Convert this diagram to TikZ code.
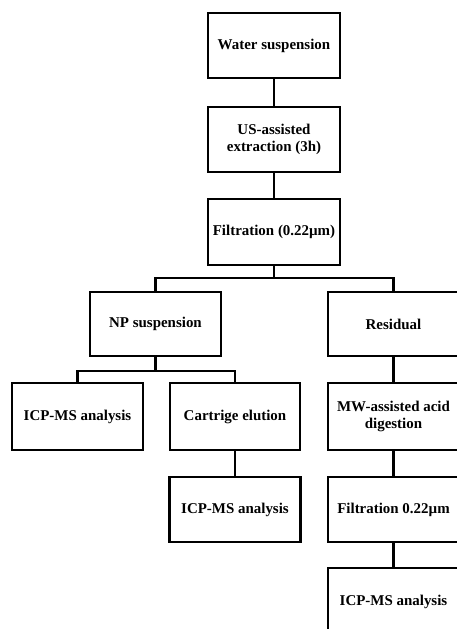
\documentclass[tikz,border=0pt]{standalone}
\usepackage{fontspec}
\setmainfont{Liberation Serif}
\begin{document}
\begin{tikzpicture}[x=1bp,y=-1bp,
  box/.style={draw=black, line width=2.5bp, fill=white, inner sep=0pt, align=center,
    minimum width=131bp, minimum height=65bp, font=\fontsize{15}{17}\selectfont\bfseries},
  link/.style={draw=black, line width=2.3bp}]
\useasboundingbox (0,0) rectangle (457,629);
\clip (0,0) rectangle (457,629);
\fill[white] (0,0) rectangle (457,629);
\node[box, minimum width=132bp] (w) at (274,45.5) {Water suspension};
\node[box, minimum width=132bp] (us) at (274,139.5) {US-assisted\\extraction (3h)};
\node[box, minimum width=132bp, minimum height=66bp] (f) at (274,232) {Filtration (0.22µm)};
\node[box, minimum height=64bp] (np) at (155.5,324) {NP suspension};
\node[box, minimum height=64bp] (res) at (393.5,324) {Residual};
\node[box, minimum height=67bp] (icp1) at (77.5,416.5) {ICP-MS analysis};
\node[box, minimum width=130bp, minimum height=67bp] (car) at (235,416.5) {Cartrige elution};
\node[box, minimum height=67bp] (mw) at (393.5,416.5) {MW-assisted acid\\digestion};
\node[box] (icp2) at (235,509.5) {ICP-MS analysis};
\node[box] (f2) at (393.5,509.5) {Filtration 0.22µm};
\node[box, minimum height=68bp] (icp3) at (393.5,602) {ICP-MS analysis};
\draw[link] (w) -- (us);
\draw[link] (us) -- (f);
\draw[link] (f.south) -- ++(0,12) coordinate (b1);
\draw[link] (np.north) |- (b1) -| (res.north);
\draw[link] (np.south) -- ++(0,14) coordinate (b2);
\draw[link] (icp1.north) |- (b2) -| (car.north);
\draw[link] (car) -- (icp2);
\draw[link] (res) -- (mw);
\draw[link] (mw) -- (f2);
\draw[link] (f2) -- (icp3);
\end{tikzpicture}
\end{document}
